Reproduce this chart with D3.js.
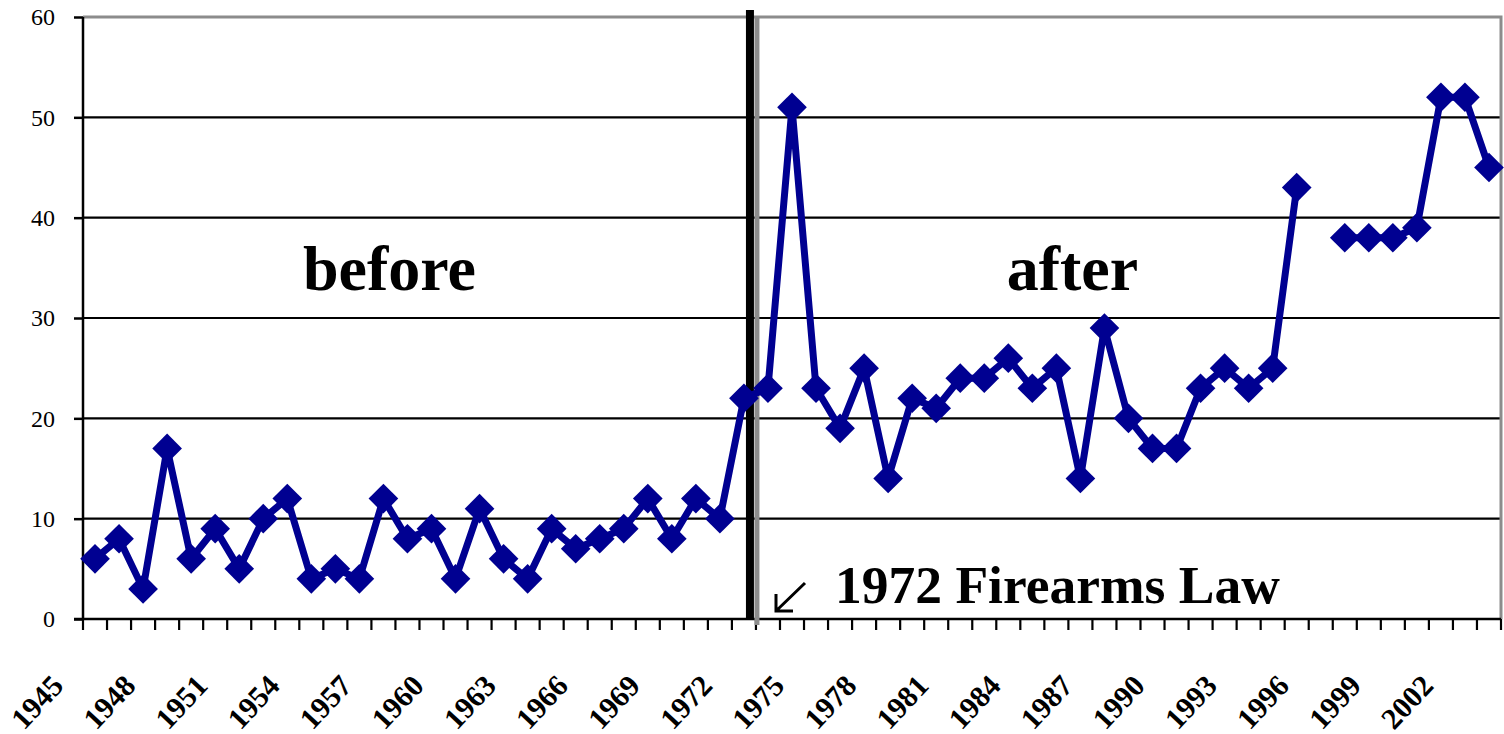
<!DOCTYPE html>
<html>
<head>
<meta charset="utf-8">
<script src="https://cdn.jsdelivr.net/npm/d3@7"></script>
<style>
  body { margin: 0; background: #fff; }
  svg { display: block; font-family: "Liberation Serif", "Times New Roman", serif; }
</style>
</head>
<body>
<svg id="chart" width="1504" height="734"></svg>
<script>
// Dati
const years = [1945, 1946, 1947, 1948, 1949, 1950, 1951, 1952, 1953, 1954,
    1955, 1956, 1957, 1958, 1959, 1960, 1961, 1962, 1963, 1964,
    1965, 1966, 1967, 1968, 1969, 1970, 1971, 1972, 1973, 1974,
    1975, 1976, 1977, 1978, 1979, 1980, 1981, 1982, 1983, 1984,
    1985, 1986, 1987, 1988, 1989, 1990, 1991, 1992, 1993, 1994,
    1995, 1996, 1997, 1998, 1999, 2000, 2001, 2002, 2003];
const values = [6, 8, 3, 17, 6, 9, 5, 10, 12, 4,
    5, 4, 12, 8, 9, 4, 11, 6, 4, 9,
    7, 8, 9, 12, 8, 12, 10, 22, 23, 51,
    23, 19, 25, 14, 22, 21, 24, 24, 26, 23,
    25, 14, 29, 20, 17, 17, 23, 25, 23, 25,
    43, null, 38, 38, 38, 39, 52, 52, 45];
const yTicks = [0, 10, 20, 30, 40, 50, 60];
const xLabelYears = [1945, 1948, 1951, 1954, 1957, 1960, 1963, 1966, 1969, 1972,
    1975, 1978, 1981, 1984, 1987, 1990, 1993, 1996, 1999, 2002];
const lawYear = 1973;   // primo anno dopo la legge
const periodLabels = [
    { text: "before", year: 1957, dx: 6 },
    { text: "after", year: 1986, dx: -8 }
];
const lawLabel = "1972 Firearms Law";

const data = years.map((yr, i) => ({ year: yr, value: values[i] }));

// Area di disegno
const plotLeft = 83, plotRight = 1501, plotTop = 17, plotBottom = 619;
const svg = d3.select("#chart");

const x = d3.scaleBand()
    .domain(years)
    .range([plotLeft, plotRight]);

const y = d3.scaleLinear()
    .domain([0, 60])
    .range([plotBottom, plotTop]);

const cx = (yr) => x(yr) + x.bandwidth() / 2;

// Griglia orizzontale
svg.append("g")
    .selectAll("line")
    .data(yTicks.filter(t => t > 0 && t < 60))
    .enter()
    .append("line")
    .attr("x1", plotLeft)
    .attr("x2", plotRight)
    .attr("y1", d => y(d))
    .attr("y2", d => y(d))
    .attr("stroke", "#000")
    .attr("stroke-width", 2.2);

// Bordo superiore e destro (grigio)
svg.append("path")
    .attr("d", "M" + plotLeft + "," + y(60) + " H" + plotRight + " V" + y(0))
    .attr("fill", "none")
    .attr("stroke", "#8c8c8c")
    .attr("stroke-width", 3);

// Asse Y
const yAxis = svg.append("g")
    .attr("transform", "translate(" + plotLeft + ",0)")
    .call(d3.axisLeft(y).tickValues(yTicks).tickSize(9).tickPadding(19).tickFormat(d3.format("d")));
yAxis.select(".domain").attr("stroke-width", 2.5).attr("d", "M0," + y(60) + "V" + y(0));
yAxis.selectAll(".tick line").attr("stroke-width", 2.5);
yAxis.selectAll("text")
    .attr("font-size", 24)
    .attr("font-family", "Liberation Serif, Times New Roman, serif")
    .attr("fill", "#000");

// Asse X: tacche ai confini delle categorie
const boundaries = years.map(yr => x(yr)).concat([plotRight]);
svg.append("line")
    .attr("x1", plotLeft - 9)
    .attr("x2", plotRight)
    .attr("y1", plotBottom)
    .attr("y2", plotBottom)
    .attr("stroke", "#000")
    .attr("stroke-width", 2.5);
svg.append("g")
    .selectAll("line")
    .data(boundaries)
    .enter()
    .append("line")
    .attr("x1", d => d)
    .attr("x2", d => d)
    .attr("y1", plotBottom)
    .attr("y2", plotBottom + 11)
    .attr("stroke", "#000")
    .attr("stroke-width", 2.2);

// Etichette anni, ruotate
svg.append("g")
    .selectAll("text")
    .data(xLabelYears)
    .enter()
    .append("text")
    .attr("transform", d => "translate(" + (cx(d) - 30) + ",687) rotate(-47)")
    .attr("text-anchor", "end")
    .attr("font-size", 30)
    .attr("font-weight", "bold")
    .attr("fill", "#000")
    .text(d => d);

// Linea della legge
const lawX = x(lawYear);
svg.append("line")
    .attr("x1", lawX - 6).attr("x2", lawX - 6)
    .attr("y1", 10).attr("y2", plotBottom)
    .attr("stroke", "#000")
    .attr("stroke-width", 8);
svg.append("line")
    .attr("x1", lawX + 1).attr("x2", lawX + 1)
    .attr("y1", plotTop).attr("y2", plotBottom + 6)
    .attr("stroke", "#8c8c8c")
    .attr("stroke-width", 5);

// Serie
const line = d3.line()
    .defined(d => d.value != null)
    .x(d => cx(d.year))
    .y(d => y(d.value));

svg.append("path")
    .datum(data)
    .attr("d", line)
    .attr("fill", "none")
    .attr("stroke", "#000091")
    .attr("stroke-width", 7)
    .attr("stroke-linejoin", "miter");

svg.append("g")
    .selectAll("path")
    .data(data.filter(d => d.value != null))
    .enter()
    .append("path")
    .attr("d", d3.symbol().type(d3.symbolSquare).size(440))
    .attr("transform", d => "translate(" + cx(d.year) + "," + y(d.value) + ") rotate(45)")
    .attr("fill", "#000091");

// Testi
svg.append("g")
    .selectAll("text")
    .data(periodLabels)
    .enter()
    .append("text")
    .attr("x", d => cx(d.year) + d.dx)
    .attr("y", 290)
    .attr("text-anchor", "middle")
    .attr("font-size", 64)
    .attr("font-weight", "bold")
    .attr("fill", "#000")
    .text(d => d.text);

svg.append("text")
    .attr("x", 835)
    .attr("y", 603)
    .attr("font-size", 53.5)
    .attr("font-weight", "bold")
    .attr("fill", "#000")
    .text(lawLabel);

// Freccia
svg.append("path")
    .attr("d", "M805,583 L776,611 M776,594 V611 H793")
    .attr("fill", "none")
    .attr("stroke", "#000")
    .attr("stroke-width", 3);
</script>
</body>
</html>
